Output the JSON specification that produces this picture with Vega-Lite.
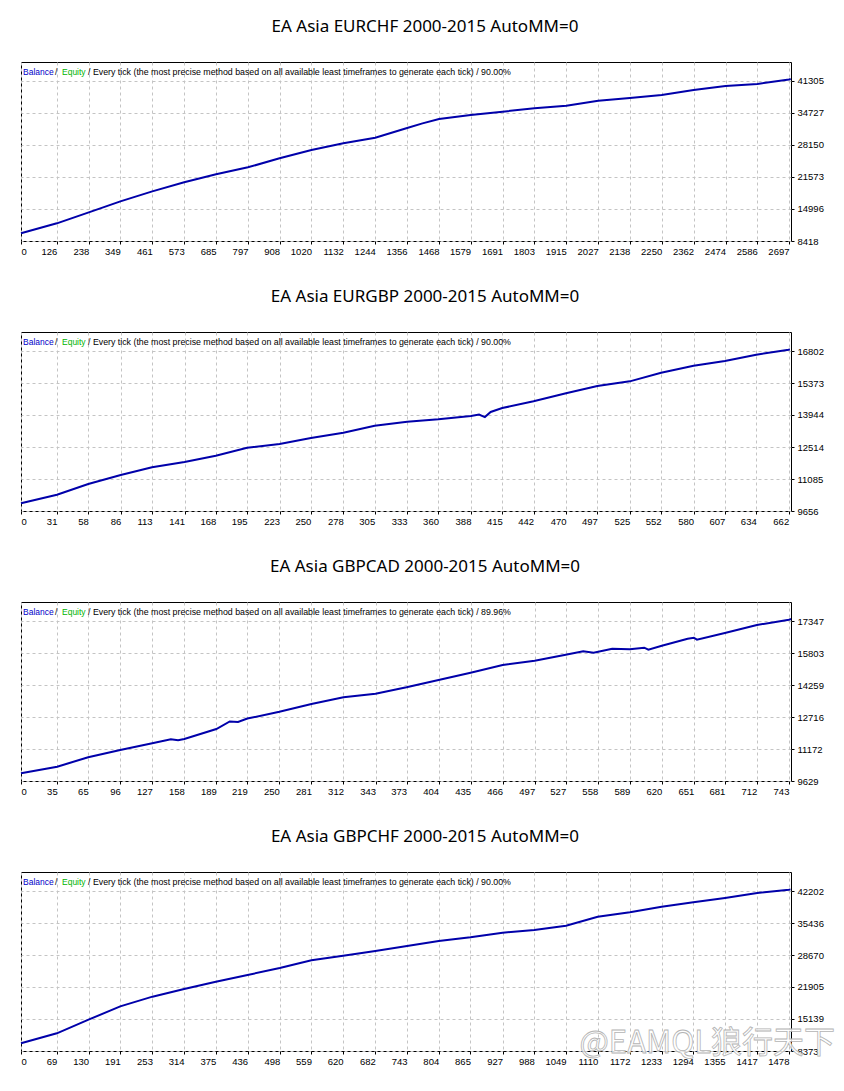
{
  "$schema": "https://vega.github.io/schema/vega-lite/v6.json",
  "background": "white",
  "padding": {"left": 16, "top": 17, "right": 5, "bottom": 5},
  "spacing": 31,
  "config": {
    "view": {"stroke": "black", "strokeWidth": 1},
    "title": {"font": "Noto Sans", "fontSize": 17, "fontWeight": "normal", "color": "#000000", "anchor": "middle", "dx": 19, "offset": 26},
    "axis": {
      "title": null, "domain": false, "grid": true, "gridColor": "#c4c4c4", "gridDash": [3, 3], "gridWidth": 1,
      "tickColor": "#000000", "tickSize": 3, "labelFont": "Liberation Sans", "labelFontSize": 9.5, "labelColor": "#000000",
      "labelFlush": false, "labelBound": false, "format": "d", "tickCount": 40
    },
    "axisX": {"labelPadding": 2, "labelAlign": {"condition": {"test": "datum.value == 0", "value": "left"}, "value": "right"}, "labelBaseline": "top"},
    "axisY": {"orient": "right", "labelPadding": 3, "labelAlign": "left", "labelBaseline": "middle"},
    "text": {"font": "Liberation Sans", "fontSize": 8.5, "align": "left", "baseline": "alphabetic"}
  },
  "datasets": {
    "eurchf": [
      {"trade": 0, "balance": 9994}, {"trade": 126, "balance": 12049}, {"trade": 238, "balance": 14310}, {"trade": 349, "balance": 16571},
      {"trade": 461, "balance": 18626}, {"trade": 573, "balance": 20476}, {"trade": 685, "balance": 22120}, {"trade": 797, "balance": 23559},
      {"trade": 908, "balance": 25409}, {"trade": 1020, "balance": 27122}, {"trade": 1132, "balance": 28492}, {"trade": 1244, "balance": 29657},
      {"trade": 1356, "balance": 31643}, {"trade": 1410, "balance": 32590}, {"trade": 1468, "balance": 33494}, {"trade": 1579, "balance": 34315},
      {"trade": 1691, "balance": 35001}, {"trade": 1803, "balance": 35686}, {"trade": 1915, "balance": 36234}, {"trade": 2027, "balance": 37262},
      {"trade": 2138, "balance": 37810}, {"trade": 2250, "balance": 38426}, {"trade": 2362, "balance": 39454}, {"trade": 2474, "balance": 40276},
      {"trade": 2586, "balance": 40687}, {"trade": 2697, "balance": 41600}, {"trade": 2703, "balance": 41700}
    ],
    "eurgbp": [
      {"trade": 0, "balance": 9998}, {"trade": 31, "balance": 10385}, {"trade": 58, "balance": 10862}, {"trade": 86, "balance": 11264},
      {"trade": 113, "balance": 11606}, {"trade": 141, "balance": 11844}, {"trade": 168, "balance": 12127}, {"trade": 195, "balance": 12485},
      {"trade": 223, "balance": 12648}, {"trade": 250, "balance": 12916}, {"trade": 278, "balance": 13155}, {"trade": 305, "balance": 13467},
      {"trade": 333, "balance": 13646}, {"trade": 360, "balance": 13750}, {"trade": 388, "balance": 13900}, {"trade": 395, "balance": 13960},
      {"trade": 400, "balance": 13850}, {"trade": 405, "balance": 14080}, {"trade": 415, "balance": 14256}, {"trade": 442, "balance": 14554},
      {"trade": 470, "balance": 14911}, {"trade": 497, "balance": 15239}, {"trade": 525, "balance": 15447}, {"trade": 552, "balance": 15834},
      {"trade": 580, "balance": 16147}, {"trade": 607, "balance": 16356}, {"trade": 634, "balance": 16638}, {"trade": 662, "balance": 16862},
      {"trade": 663, "balance": 16880}
    ],
    "gbpcad": [
      {"trade": 0, "balance": 9999}, {"trade": 35, "balance": 10320}, {"trade": 65, "balance": 10771}, {"trade": 96, "balance": 11124},
      {"trade": 127, "balance": 11446}, {"trade": 145, "balance": 11640}, {"trade": 152, "balance": 11590}, {"trade": 158, "balance": 11655},
      {"trade": 189, "balance": 12137}, {"trade": 202, "balance": 12500}, {"trade": 210, "balance": 12480}, {"trade": 219, "balance": 12640},
      {"trade": 250, "balance": 12973}, {"trade": 281, "balance": 13343}, {"trade": 312, "balance": 13665}, {"trade": 343, "balance": 13842},
      {"trade": 373, "balance": 14147}, {"trade": 404, "balance": 14501}, {"trade": 435, "balance": 14855}, {"trade": 466, "balance": 15224},
      {"trade": 497, "balance": 15434}, {"trade": 527, "balance": 15723}, {"trade": 544, "balance": 15883}, {"trade": 554, "balance": 15819},
      {"trade": 572, "balance": 16012}, {"trade": 589, "balance": 15980}, {"trade": 603, "balance": 16060}, {"trade": 607, "balance": 15964},
      {"trade": 620, "balance": 16157}, {"trade": 645, "balance": 16495}, {"trade": 651, "balance": 16540}, {"trade": 654, "balance": 16446},
      {"trade": 681, "balance": 16768}, {"trade": 712, "balance": 17154}, {"trade": 743, "balance": 17411}, {"trade": 745, "balance": 17440}
    ],
    "gbpchf": [
      {"trade": 0, "balance": 9994}, {"trade": 69, "balance": 12108}, {"trade": 130, "balance": 14998}, {"trade": 191, "balance": 17817},
      {"trade": 253, "balance": 19861}, {"trade": 314, "balance": 21482}, {"trade": 375, "balance": 23032}, {"trade": 436, "balance": 24442},
      {"trade": 498, "balance": 25922}, {"trade": 559, "balance": 27543}, {"trade": 620, "balance": 28530}, {"trade": 682, "balance": 29516},
      {"trade": 743, "balance": 30573}, {"trade": 804, "balance": 31630}, {"trade": 865, "balance": 32406}, {"trade": 927, "balance": 33392},
      {"trade": 988, "balance": 33956}, {"trade": 1049, "balance": 34872}, {"trade": 1110, "balance": 36776}, {"trade": 1172, "balance": 37692},
      {"trade": 1233, "balance": 38890}, {"trade": 1294, "balance": 39806}, {"trade": 1355, "balance": 40722}, {"trade": 1417, "balance": 41779},
      {"trade": 1478, "balance": 42485}, {"trade": 1481, "balance": 42550}
    ]
  },
  "vconcat": [
    {
      "title": "EA Asia EURCHF 2000-2015 AutoMM=0",
      "width": 770, "height": 179,
      "layer": [
        {
          "data": {"name": "eurchf"},
          "mark": {"type": "line", "color": "#0000aa", "strokeWidth": 2},
          "encoding": {
            "x": {"field": "trade", "type": "quantitative", "scale": {"domain": [0, 2704], "nice": false, "zero": false},
                  "axis": {"labelOverlap": false, "values": [0,126,238,349,461,573,685,797,908,1020,1132,1244,1356,1468,1579,1691,1803,1915,2027,2138,2250,2362,2474,2586,2697]}},
            "y": {"field": "balance", "type": "quantitative", "scale": {"domain": [8418, 45209], "nice": false, "zero": false},
                  "axis": {"labelOverlap": false, "values": [8418,14996,21573,28150,34727,41305]}}
          }
        },
        {"data": {"values": [{}]}, "mark": {"type": "text", "text": "Balance", "color": "#0000c8", "dx": 2, "dy": 13}, "encoding": {"x": {"datum": 0}, "y": {"datum": 45209}}},
        {"data": {"values": [{}]}, "mark": {"type": "text", "text": "/", "color": "#000000", "dx": 34, "dy": 13}, "encoding": {"x": {"datum": 0}, "y": {"datum": 45209}}},
        {"data": {"values": [{}]}, "mark": {"type": "text", "text": "Equity", "color": "#00b400", "dx": 41, "dy": 13}, "encoding": {"x": {"datum": 0}, "y": {"datum": 45209}}},
        {"data": {"values": [{}]}, "mark": {"type": "text", "text": "/ Every tick (the most precise method based on all available least timeframes to generate each tick) / 90.00%", "color": "#000000", "fontSize": 8.8, "dx": 67, "dy": 13}, "encoding": {"x": {"datum": 0}, "y": {"datum": 45209}}}
      ]
    },
    {
      "title": "EA Asia EURGBP 2000-2015 AutoMM=0",
      "width": 770, "height": 179,
      "layer": [
        {
          "data": {"name": "eurgbp"},
          "mark": {"type": "line", "color": "#0000aa", "strokeWidth": 2},
          "encoding": {
            "x": {"field": "trade", "type": "quantitative", "scale": {"domain": [0, 664], "nice": false, "zero": false},
                  "axis": {"labelOverlap": false, "values": [0,31,58,86,113,141,168,195,223,250,278,305,333,360,388,415,442,470,497,525,552,580,607,634,662]}},
            "y": {"field": "balance", "type": "quantitative", "scale": {"domain": [9656, 17651], "nice": false, "zero": false},
                  "axis": {"labelOverlap": false, "values": [9656,11085,12514,13944,15373,16802]}}
          }
        },
        {"data": {"values": [{}]}, "mark": {"type": "text", "text": "Balance", "color": "#0000c8", "dx": 2, "dy": 13}, "encoding": {"x": {"datum": 0}, "y": {"datum": 17651}}},
        {"data": {"values": [{}]}, "mark": {"type": "text", "text": "/", "color": "#000000", "dx": 34, "dy": 13}, "encoding": {"x": {"datum": 0}, "y": {"datum": 17651}}},
        {"data": {"values": [{}]}, "mark": {"type": "text", "text": "Equity", "color": "#00b400", "dx": 41, "dy": 13}, "encoding": {"x": {"datum": 0}, "y": {"datum": 17651}}},
        {"data": {"values": [{}]}, "mark": {"type": "text", "text": "/ Every tick (the most precise method based on all available least timeframes to generate each tick) / 90.00%", "color": "#000000", "fontSize": 8.8, "dx": 67, "dy": 13}, "encoding": {"x": {"datum": 0}, "y": {"datum": 17651}}}
      ]
    },
    {
      "title": "EA Asia GBPCAD 2000-2015 AutoMM=0",
      "width": 770, "height": 179,
      "layer": [
        {
          "data": {"name": "gbpcad"},
          "mark": {"type": "line", "color": "#0000aa", "strokeWidth": 2},
          "encoding": {
            "x": {"field": "trade", "type": "quantitative", "scale": {"domain": [0, 745], "nice": false, "zero": false},
                  "axis": {"labelOverlap": false, "values": [0,35,65,96,127,158,189,219,250,281,312,343,373,404,435,466,497,527,558,589,620,651,681,712,743]}},
            "y": {"field": "balance", "type": "quantitative", "scale": {"domain": [9629, 18264], "nice": false, "zero": false},
                  "axis": {"labelOverlap": false, "values": [9629,11172,12716,14259,15803,17347]}}
          }
        },
        {"data": {"values": [{}]}, "mark": {"type": "text", "text": "Balance", "color": "#0000c8", "dx": 2, "dy": 13}, "encoding": {"x": {"datum": 0}, "y": {"datum": 18264}}},
        {"data": {"values": [{}]}, "mark": {"type": "text", "text": "/", "color": "#000000", "dx": 34, "dy": 13}, "encoding": {"x": {"datum": 0}, "y": {"datum": 18264}}},
        {"data": {"values": [{}]}, "mark": {"type": "text", "text": "Equity", "color": "#00b400", "dx": 41, "dy": 13}, "encoding": {"x": {"datum": 0}, "y": {"datum": 18264}}},
        {"data": {"values": [{}]}, "mark": {"type": "text", "text": "/ Every tick (the most precise method based on all available least timeframes to generate each tick) / 89.96%", "color": "#000000", "fontSize": 8.8, "dx": 67, "dy": 13}, "encoding": {"x": {"datum": 0}, "y": {"datum": 18264}}}
      ]
    },
    {
      "title": "EA Asia GBPCHF 2000-2015 AutoMM=0",
      "width": 770, "height": 179,
      "layer": [
        {
          "data": {"name": "gbpchf"},
          "mark": {"type": "line", "color": "#0000aa", "strokeWidth": 2},
          "encoding": {
            "x": {"field": "trade", "type": "quantitative", "scale": {"domain": [0, 1482], "nice": false, "zero": false},
                  "axis": {"labelOverlap": false, "values": [0,69,130,191,253,314,375,436,498,559,620,682,743,804,865,927,988,1049,1110,1172,1233,1294,1355,1417,1478]}},
            "y": {"field": "balance", "type": "quantitative", "scale": {"domain": [8373, 46220], "nice": false, "zero": false},
                  "axis": {"labelOverlap": false, "values": [8373,15139,21905,28670,35436,42202]}}
          }
        },
        {"data": {"values": [{}]}, "mark": {"type": "text", "text": "Balance", "color": "#0000c8", "dx": 2, "dy": 13}, "encoding": {"x": {"datum": 0}, "y": {"datum": 46220}}},
        {"data": {"values": [{}]}, "mark": {"type": "text", "text": "/", "color": "#000000", "dx": 34, "dy": 13}, "encoding": {"x": {"datum": 0}, "y": {"datum": 46220}}},
        {"data": {"values": [{}]}, "mark": {"type": "text", "text": "Equity", "color": "#00b400", "dx": 41, "dy": 13}, "encoding": {"x": {"datum": 0}, "y": {"datum": 46220}}},
        {"data": {"values": [{}]}, "mark": {"type": "text", "text": "/ Every tick (the most precise method based on all available least timeframes to generate each tick) / 90.00%", "color": "#000000", "fontSize": 8.8, "dx": 67, "dy": 13}, "encoding": {"x": {"datum": 0}, "y": {"datum": 46220}}},
        {"data": {"values": [{}]}, "mark": {"type": "text", "text": "@EAMQL狼行天下", "font": "Noto Sans CJK SC", "fontSize": 31, "align": "right", "baseline": "alphabetic", "fill": "#ffffff", "fillOpacity": 0.85, "stroke": "#b4b4b4", "strokeWidth": 0.8, "dx": 44, "dy": 2}, "encoding": {"x": {"datum": 1482}, "y": {"datum": 8373}}}
      ]
    }
  ]
}
